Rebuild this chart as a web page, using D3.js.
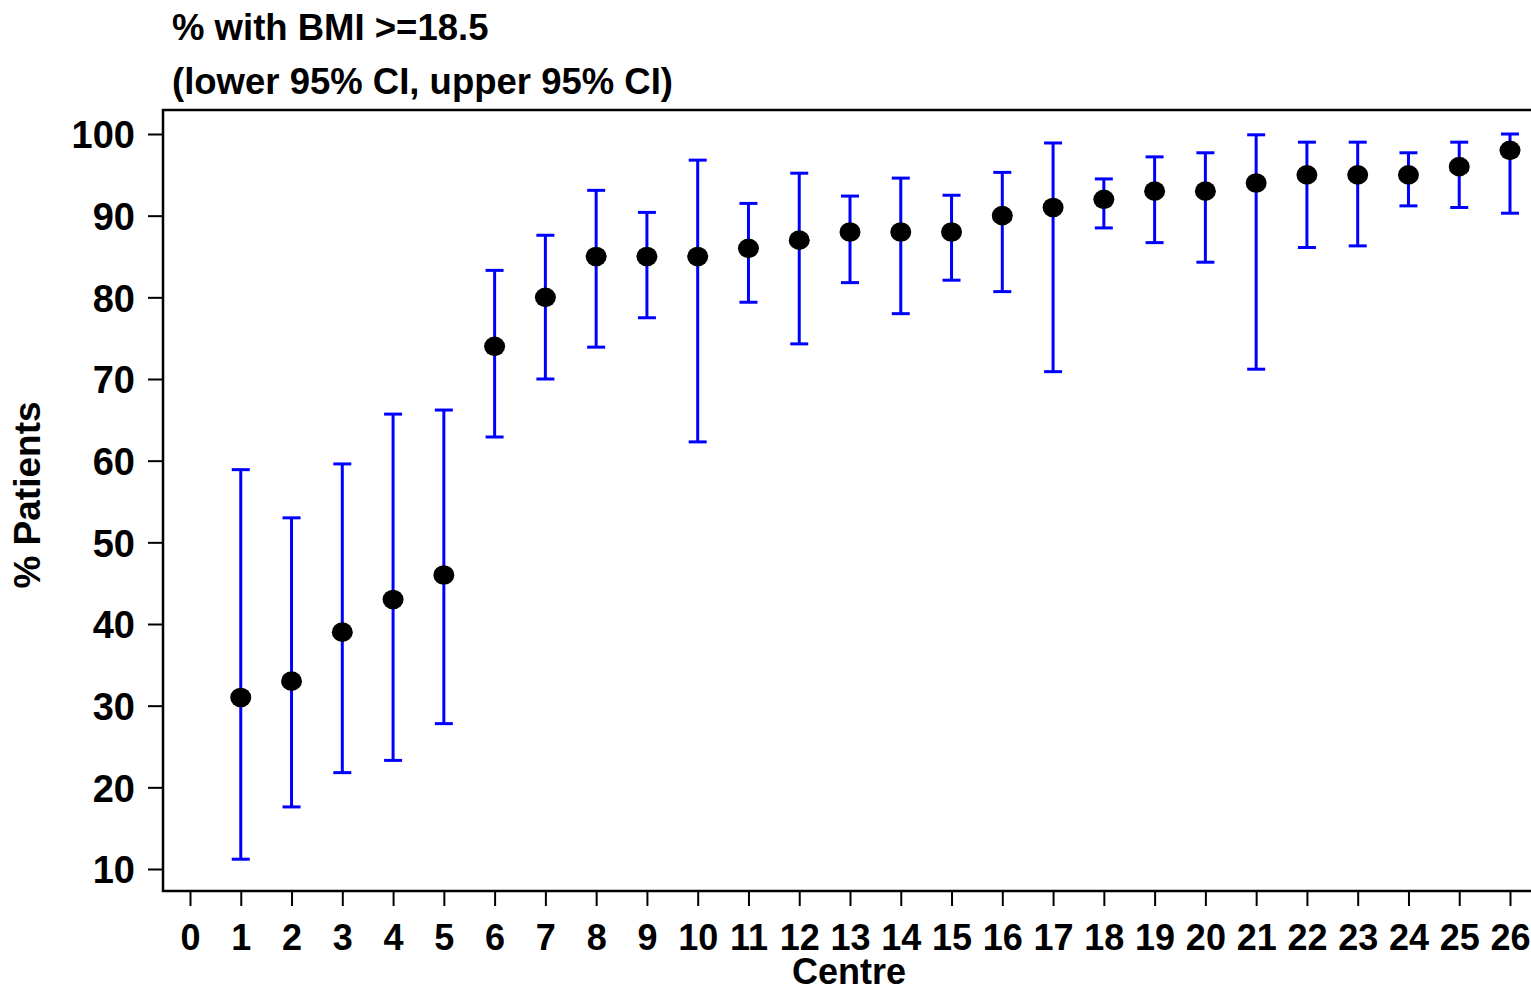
<!DOCTYPE html>
<html>
<head>
<meta charset="utf-8">
<script src="https://cdn.jsdelivr.net/npm/d3@7"></script>
<style>
  body { margin: 0; background: #fff; }
  svg text { font-family: "Liberation Sans", Arial, sans-serif; font-weight: bold; fill: #000; }
</style>
</head>
<body>
<div id="chart"></div>
<script>
// centre numbers, estimate and 95% CI
var centres = [1,2,3,4,5,6,7,8,9,10,11,12,13,14,15,16,17,18,19,20,21,22,23,24,25,26];
var pct =   [31,33,39,43,46,74,80,85,85,85,86,87,88,88,88,90,91,92,93,93,94,95,95,95,96,98];
var lower = [11.2,17.6,21.8,23.3,27.8,62.9,70.0,73.9,77.5,62.3,79.4,74.3,81.8,78.0,82.1,80.7,70.9,88.5,86.7,84.3,71.2,86.1,86.3,91.2,91.0,90.3];
var upper = [58.9,53.0,59.6,65.7,66.2,83.3,87.6,93.1,90.4,96.8,91.5,95.2,92.4,94.6,92.5,95.3,98.9,94.5,97.2,97.7,99.9,99.0,99.0,97.7,99.0,100];
var xTicks = d3.range(0, 27);
var yTicks = [10,20,30,40,50,60,70,80,90,100];

var data = centres.map(function(c, i){
    return { centre: c, pct: pct[i], lo: lower[i], hi: upper[i] };
});

var W = 1531, H = 988;
var svg = d3.select("#chart").append("svg")
    .attr("width", W)
    .attr("height", H);

var xScale = d3.scaleLinear().domain([0, 26]).range([190, 1510]);
var yScale = d3.scaleLinear().domain([10, 100]).range([869, 134]);

var frame = { left: 163, top: 110, bottom: 891 };

// plot frame (right side runs off the picture)
svg.append("rect")
    .attr("x", frame.left)
    .attr("y", frame.top)
    .attr("width", W + 10 - frame.left)
    .attr("height", frame.bottom - frame.top)
    .attr("fill", "none")
    .attr("stroke", "#000")
    .attr("stroke-width", 2.5);

// y axis
var yAxis = svg.append("g")
    .attr("transform", "translate(" + frame.left + ",0)")
    .call(d3.axisLeft(yScale).tickValues(yTicks).tickSize(15).tickPadding(13));
yAxis.select(".domain").remove();
yAxis.selectAll(".tick line").attr("stroke", "#000").attr("stroke-width", 2);
yAxis.selectAll(".tick text")
    .attr("font-size", "38px")
    .attr("dy", "0.36em");

// x axis
var xAxis = svg.append("g")
    .attr("transform", "translate(0," + frame.bottom + ")")
    .call(d3.axisBottom(xScale).tickValues(xTicks).tickSize(15).tickPadding(18));
xAxis.select(".domain").remove();
xAxis.selectAll(".tick line").attr("stroke", "#000").attr("stroke-width", 2);
xAxis.selectAll(".tick text")
    .attr("font-size", "36px");

// error bars
var bars = svg.append("g").selectAll("g.bar")
    .data(data)
    .enter().append("g")
    .attr("class", "bar");

bars.append("line")
    .attr("x1", function(d){ return xScale(d.centre); })
    .attr("x2", function(d){ return xScale(d.centre); })
    .attr("y1", function(d){ return yScale(d.lo); })
    .attr("y2", function(d){ return yScale(d.hi); })
    .attr("stroke", "#0000ff")
    .attr("stroke-width", 3);

["lo", "hi"].forEach(function(k){
    bars.append("line")
        .attr("x1", function(d){ return xScale(d.centre) - 9; })
        .attr("x2", function(d){ return xScale(d.centre) + 9; })
        .attr("y1", function(d){ return yScale(d[k]); })
        .attr("y2", function(d){ return yScale(d[k]); })
        .attr("stroke", "#0000ff")
        .attr("stroke-width", 3);
});

// points
svg.append("g").selectAll("ellipse")
    .data(data)
    .enter().append("ellipse")
    .attr("cx", function(d){ return xScale(d.centre); })
    .attr("cy", function(d){ return yScale(d.pct); })
    .attr("rx", 10.5)
    .attr("ry", 9.8)
    .attr("fill", "#000");

// titles
svg.append("text")
    .attr("x", 172)
    .attr("y", 40)
    .attr("font-size", "36.5px")
    .text("% with BMI >=18.5");

svg.append("text")
    .attr("x", 172)
    .attr("y", 94)
    .attr("font-size", "36.5px")
    .text("(lower 95% CI, upper 95% CI)");

svg.append("text")
    .attr("x", 849)
    .attr("y", 984)
    .attr("font-size", "36px")
    .attr("text-anchor", "middle")
    .text("Centre");

svg.append("text")
    .attr("transform", "translate(40,495) rotate(-90)")
    .attr("font-size", "37px")
    .attr("text-anchor", "middle")
    .text("% Patients");
</script>
</body>
</html>
